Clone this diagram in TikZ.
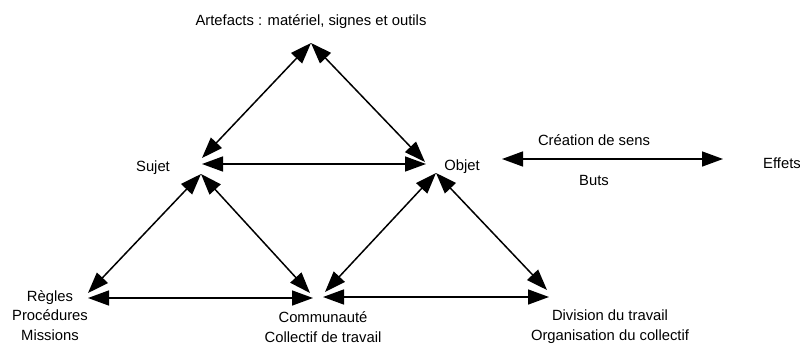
\documentclass[tikz,border=0pt]{standalone}
\usepackage{fontspec}
\setmainfont{Liberation Sans}
\usetikzlibrary{arrows.meta}
\tikzset{
  pole/.style={font=\fontsize{14.8}{19.5}\selectfont, inner sep=0pt, anchor=base, align=center},
  link/.style={{Triangle[length=21pt,width=15pt]}-{Triangle[length=21pt,width=15pt]}, line width=1.5pt},
}

\begin{document}
\begin{tikzpicture}[x=1pt, y=-1pt]
    \useasboundingbox (0,0) rectangle (800,345);
    % Poles of the activity system (texts, base = last line)
    \node[pole] (artefacts) at (311,26) {Artefacts : matériel, signes et outils};
    \node[pole] (sujet) at (153,171) {Sujet};
    \node[pole] (objet) at (462,170) {Objet};
    \node[pole] (sens) at (594,145) {Création de sens};
    \node[pole] (buts) at (594,185) {Buts};
    \node[pole] (effets) at (782,168) {Effets};
    \node[pole] (regles) at (50,340) {Règles\\Procédures\\Missions};
    \node[pole] (communaute) at (323,342) {Communauté\\Collectif de travail};
    \node[pole] (division) at (610,340) {Division du travail\\Organisation du collectif};
    % Arrow ends
    \coordinate (apex) at (311,43);
    \coordinate (sujetA) at (202,158);
    \coordinate (sujetH) at (202,164);
    \coordinate (sujetB) at (201,174);
    \coordinate (objetA) at (425,162);
    \coordinate (objetH) at (426,164);
    \coordinate (objetB) at (436,173);
    \coordinate (reglesD) at (88,293);
    \coordinate (reglesH) at (88,298);
    \coordinate (commL) at (310,293);
    \coordinate (commLH) at (313,298);
    \coordinate (commR) at (325,292);
    \coordinate (commRH) at (323,297);
    \coordinate (divD) at (547,290);
    \coordinate (divH) at (549,297);
    \coordinate (sensL) at (502,159);
    \coordinate (sensR) at (723,159);
    % Upper triangle
    \draw[link] (apex) -- (sujetA);
    \draw[link] (apex) -- (objetA);
    \draw[link] (sujetH) -- (objetH);
    % Lower left triangle
    \draw[link] (sujetB) -- (reglesD);
    \draw[link] (sujetB) -- (commL);
    \draw[link] (reglesH) -- (commLH);
    % Lower right triangle
    \draw[link] (objetB) -- (commR);
    \draw[link] (objetB) -- (divD);
    \draw[link] (commRH) -- (divH);
    % Objet towards Effets
    \draw[link] (sensL) -- (sensR);
\end{tikzpicture}
\end{document}
